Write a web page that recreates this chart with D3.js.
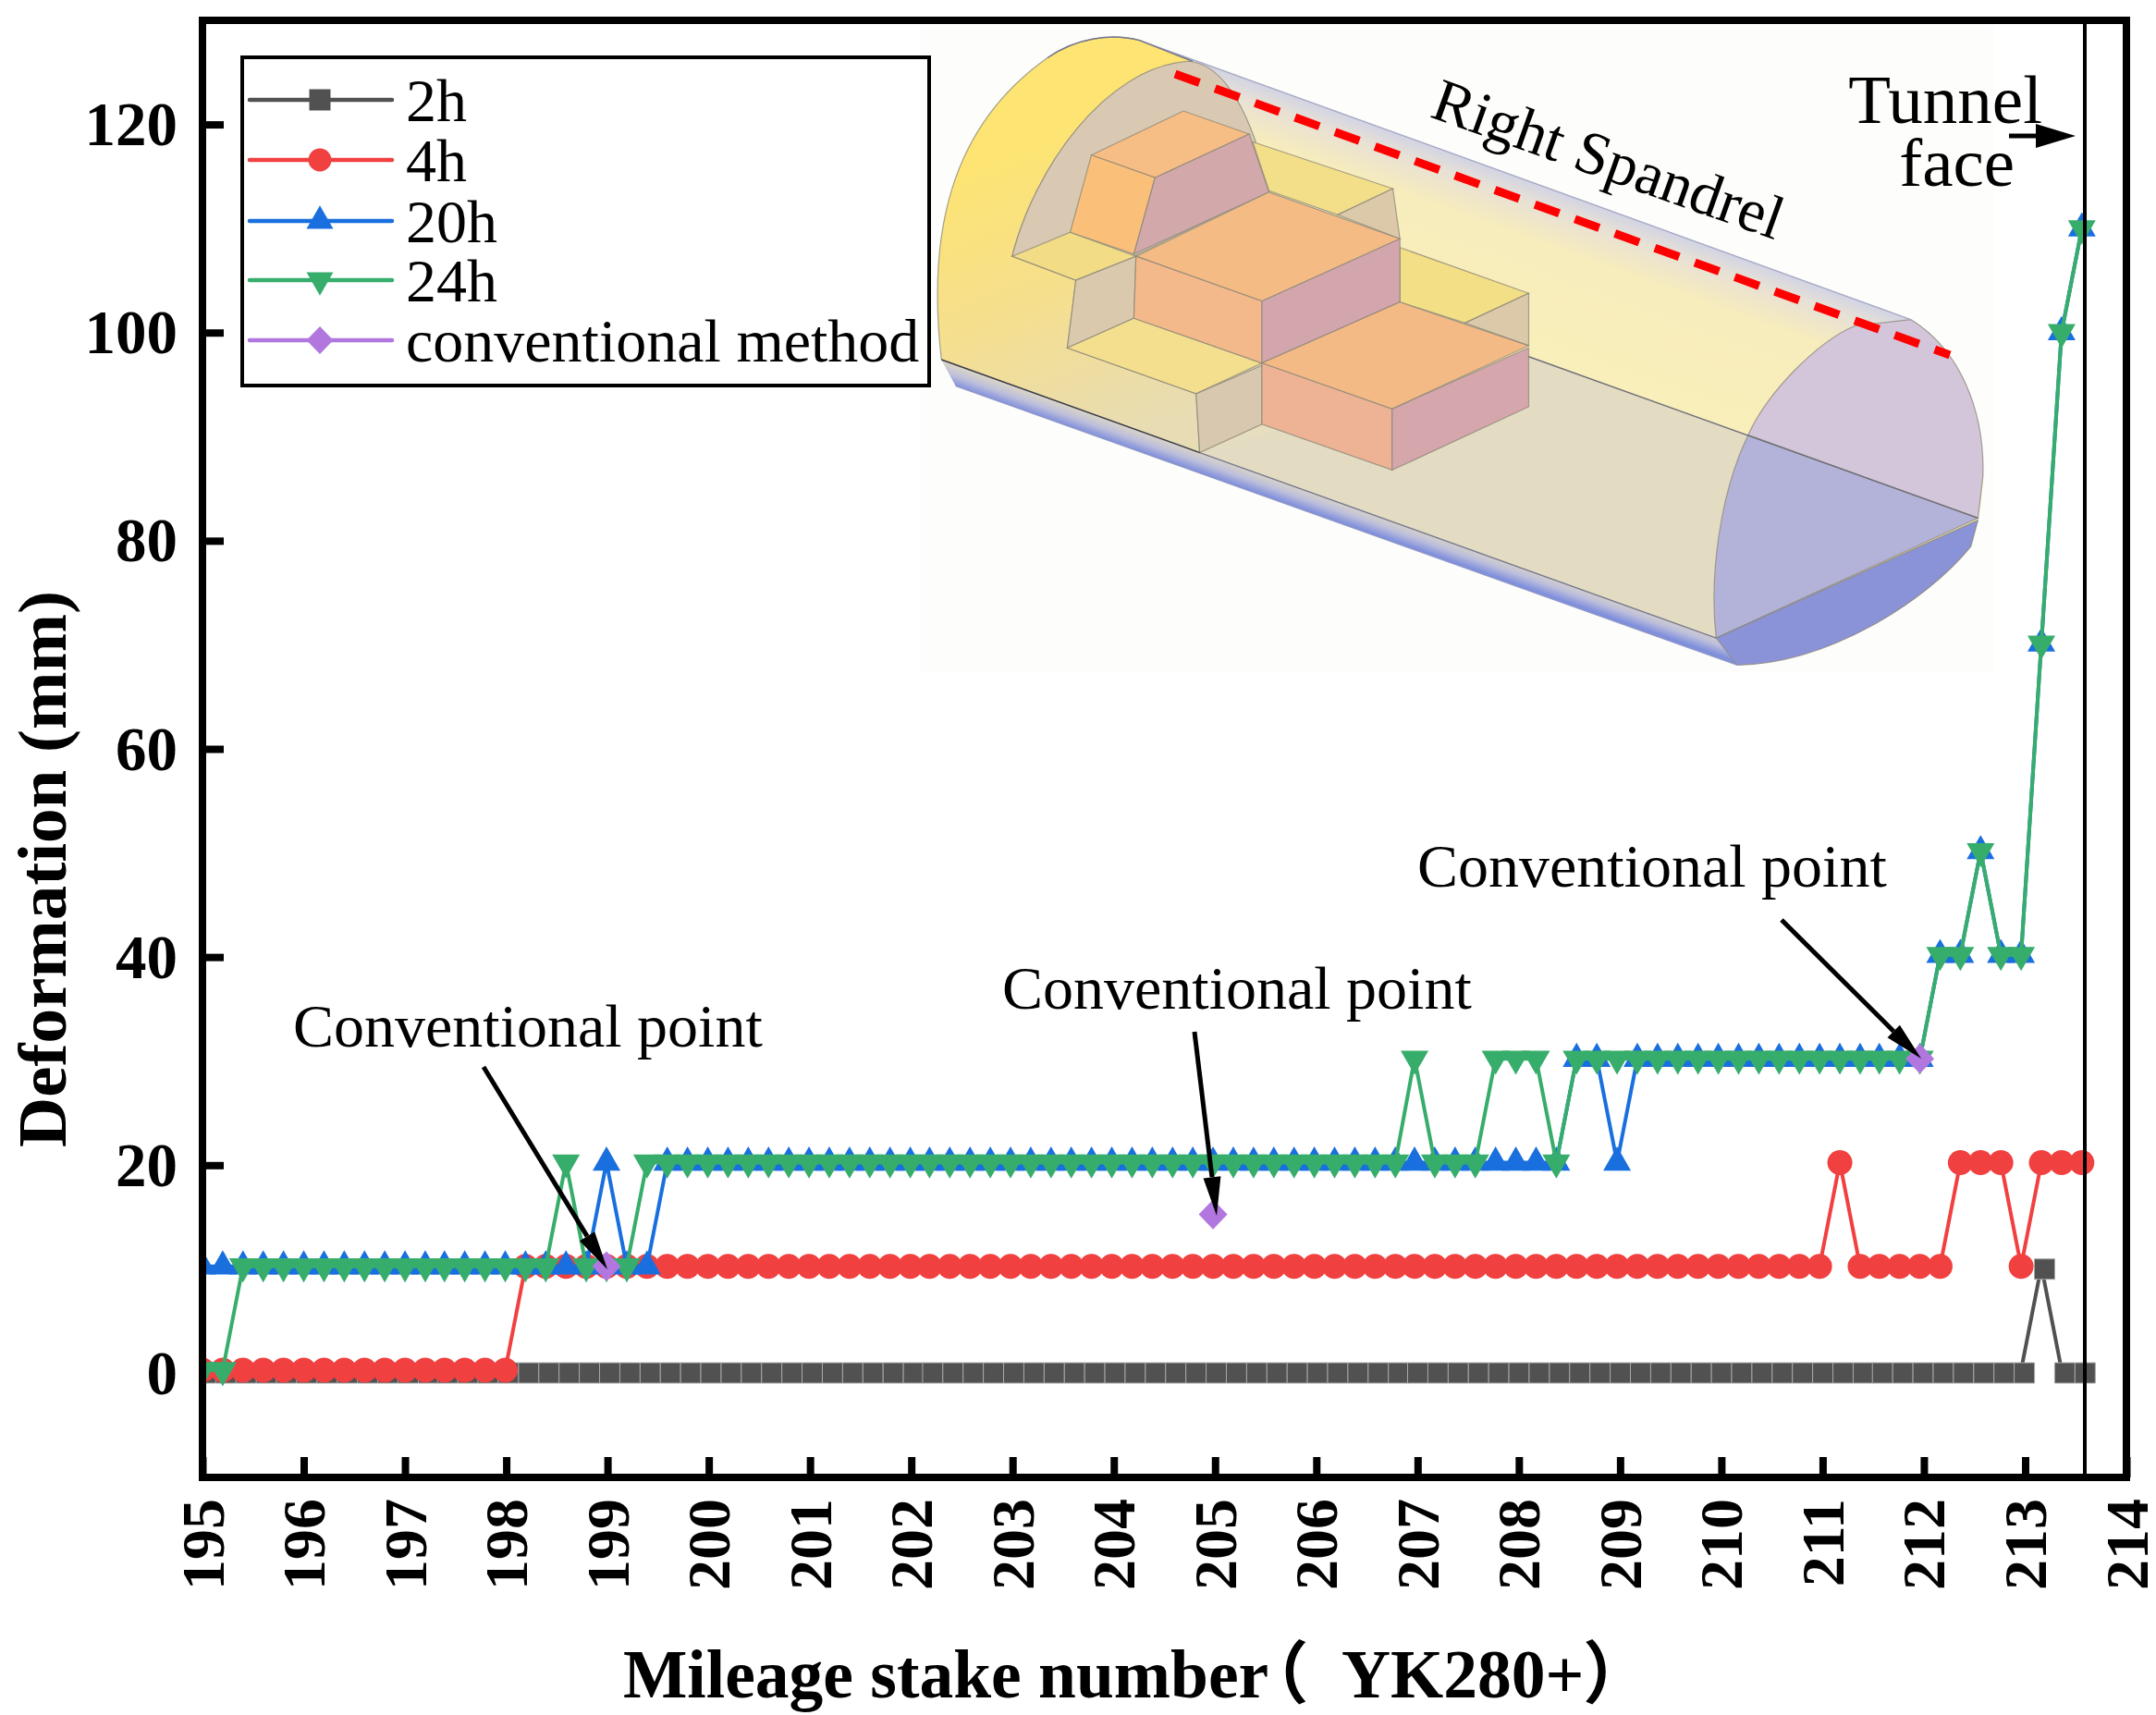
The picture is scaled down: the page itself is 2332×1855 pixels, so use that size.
<!DOCTYPE html>
<html><head><meta charset="utf-8">
<script src="https://cdn.jsdelivr.net/npm/d3@7"></script>
<style>
html,body{margin:0;padding:0;background:#fff}
text{font-family:"Liberation Serif","Noto Sans CJK SC",serif;fill:#000}
</style></head><body><svg id="c" width="2332" height="1855" xmlns="http://www.w3.org/2000/svg"></svg>
<script>
const stakes=[195.00,195.20,195.40,195.60,195.80,196.00,196.20,196.40,196.60,196.80,197.00,197.20,197.39,197.59,197.79,197.99,198.19,198.39,198.59,198.79,198.99,199.19,199.39,199.59,199.79,199.99,200.19,200.39,200.59,200.79,200.99,201.19,201.39,201.59,201.79,201.99,202.18,202.38,202.58,202.78,202.98,203.18,203.38,203.58,203.78,203.98,204.18,204.38,204.58,204.78,204.98,205.18,205.38,205.58,205.78,205.98,206.18,206.38,206.58,206.78,206.97,207.17,207.37,207.57,207.77,207.97,208.17,208.37,208.57,208.77,208.97,209.17,209.37,209.57,209.77,209.97,210.17,210.37,210.57,210.77,210.97,211.17,211.37,211.56,211.76,211.96,212.16,212.36,212.56,212.76,212.96,213.16,213.36,213.56];
const h2=[0,0,0,0,0,0,0,0,0,0,0,0,0,0,0,0,0,0,0,0,0,0,0,0,0,0,0,0,0,0,0,0,0,0,0,0,0,0,0,0,0,0,0,0,0,0,0,0,0,0,0,0,0,0,0,0,0,0,0,0,0,0,0,0,0,0,0,0,0,0,0,0,0,0,0,0,0,0,0,0,0,0,0,0,0,0,0,0,0,0,0,10,0,0];
const h4=[0,0,0,0,0,0,0,0,0,0,0,0,0,0,0,0,10,10,10,10,10,10,10,10,10,10,10,10,10,10,10,10,10,10,10,10,10,10,10,10,10,10,10,10,10,10,10,10,10,10,10,10,10,10,10,10,10,10,10,10,10,10,10,10,10,10,10,10,10,10,10,10,10,10,10,10,10,10,10,10,10,20,10,10,10,10,10,20,20,20,10,20,20,20];
const h20=[10,10,10,10,10,10,10,10,10,10,10,10,10,10,10,10,10,10,10,10,20,10,10,20,20,20,20,20,20,20,20,20,20,20,20,20,20,20,20,20,20,20,20,20,20,20,20,20,20,20,20,20,20,20,20,20,20,20,20,20,20,20,20,20,20,20,20,20,30,30,20,30,30,30,30,30,30,30,30,30,30,30,30,30,30,30,40,40,50,40,40,70,100,110];
const h24=[0,0,10,10,10,10,10,10,10,10,10,10,10,10,10,10,10,10,20,10,10,10,20,20,20,20,20,20,20,20,20,20,20,20,20,20,20,20,20,20,20,20,20,20,20,20,20,20,20,20,20,20,20,20,20,20,20,20,20,20,30,20,20,20,30,30,30,20,30,30,30,30,30,30,30,30,30,30,30,30,30,30,30,30,30,30,40,40,50,40,40,70,100,110];
const convStakes=[198.99,204.98,211.96];
const convValues=[10,15,30];
const xTicks=[195,196,197,198,199,200,201,202,203,204,205,206,207,208,209,210,211,212,213,214];
const yTicks=[0,20,40,60,80,100,120];
const legendLabels=["2h","4h","20h","24h","conventional method"];
const colors=["#515151","#F14040","#1A6FDF","#37AD6B","#B177DE"];
const annotations=[["Conventional point",317,1132],["Conventional point",1084,1091],["Conventional point",1533,959]];
const arrows=[[523,1154,657,1373],[1292,1116,1316,1315],[1927,995,2078,1145]];

const svg=d3.select("#c");
const x=d3.scaleLinear().domain([195,214]).range([219,2300]);
const y=d3.scaleLinear().domain([-10,130]).range([1598,22]);
// the plotted marks sit on a very slightly different vertical calibration than the tick marks
const yMark=d3.scaleLinear().domain([0,110]).range([1482,247]);

const defs=svg.append("defs");
defs.append("clipPath").attr("id","plot").append("rect").attr("x",219).attr("y",22).attr("width",2081).attr("height",1576);
function grad(id,x1,y1,x2,y2,stops){
  const g=defs.append("linearGradient").attr("id",id).attr("gradientUnits","userSpaceOnUse").attr("x1",x1).attr("y1",y1).attr("x2",x2).attr("y2",y2);
  stops.forEach(s=>g.append("stop").attr("offset",s[0]).attr("stop-color",s[1]));
}
grad("body",800,326,390,1024,[[0,"#d2d4e4"],[0.05,"#e8e1d4"],[0.14,"#f7ecbc"],[0.42,"#f9efba"],[0.62,"#eee4bf"],[1,"#e2dac0"]]);
grad("end",80,350,420,900,[[0,"#fde473"],[0.45,"#f6df8c"],[1,"#e7dcb4"]]);
grad("belly",430,1003,410,1038,[[0,"#d9d4c8"],[0.5,"#bcbedb"],[1,"#7f8fdc"]]);

// inset illustration, drawn in the picture's own crop space
const inset=svg.append("g").attr("transform","translate(980,20) scale(0.7653,0.4719)");
inset.append("rect").attr("x",20).attr("y",15).attr("width",1517).attr("height",1485).attr("fill","#fdfdfb");
const surfaces=[
 ["M50,782 C30,500 60,250 200,90 C240,45 290,33 330,50 L1420,690 C1490,760 1525,900 1522,1050 C1520,1130 1515,1150 1505,1210 C1440,1340 1300,1480 1175,1482 L70,842 Z","url(#body)",0],
 ["M50,782 L70,842 L1175,1482 L1145,1420 L415,995 Z","url(#belly)",0],
 ["M415,995 L880,775 L1190,955 L1145,1420 Z","#e3dcc2",0],
 ["M50,782 C30,500 60,250 200,90 C240,45 290,33 330,50 L405,98 C280,110 180,350 150,545 L240,600 L228,755 L410,860 L415,995 Z","url(#end)",1],
 ["M150,545 C180,350 280,110 400,98 C450,105 490,220 513,395 L322,545 Z","#d9c9b2",1],
 ["M150,545 L232,490 L325,545 L240,600 Z","#f2dc85",1],
 ["M240,600 L325,545 L322,687 L228,755 Z","#dbc9ae",1],
 ["M228,755 L322,687 L503,790 L410,860 Z","#f3df8e",1],
 ["M410,860 L503,795 L503,930 L415,995 Z","#d8c8b0",1],
 ["M490,283 L688,390 L610,450 L513,395 Z","#f3df8a",1],
 ["M610,450 L688,390 L698,505 Z","#dcc9aa",1],
 ["M698,525 L880,630 L790,698 L698,650 Z","#f2df86",1],
 ["M790,698 L880,630 L880,750 Z","#dcc9aa",1],
 ["M262,313 L392,212 L485,265 L352,365 Z","#f6bd85",1],
 ["M262,313 L352,365 L322,540 L232,490 Z","#fabf78",1],
 ["M352,365 L485,265 L513,398 L322,540 Z","#d3a8aa",1],
 ["M513,398 L698,505 L503,648 L325,545 Z","#f5bb85",1],
 ["M325,545 L503,648 L503,790 L322,687 Z","#f3b98a",1],
 ["M503,648 L698,505 L698,650 L503,790 Z","#d3a5ac",1],
 ["M698,650 L880,750 L687,895 L503,790 Z","#f4ba85",1],
 ["M503,790 L687,895 L687,1035 L503,930 Z","#eeb394",1],
 ["M687,895 L880,755 L880,890 L687,1035 Z","#d5a6ab",1],
 ["M1190,955 C1220,850 1290,740 1340,705 L1420,690 C1490,760 1525,900 1522,1050 L1515,1145 Z","#d3c6da",1],
 ["M1190,955 L1515,1145 L1145,1420 C1135,1280 1150,1090 1190,955 Z","#b3b3d9",1],
 ["M1145,1420 L1515,1150 L1505,1210 C1440,1340 1300,1480 1175,1482 Z","#8b93d8",1]
];
inset.selectAll("path.s").data(surfaces).join("path").attr("class","s")
 .attr("d",d=>d[0]).attr("fill",d=>d[1])
 .attr("stroke",d=>d[2]?"#8a8578":"none").attr("stroke-width",1.2).attr("stroke-opacity",0.75)
 .attr("vector-effect","non-scaling-stroke");
const insetLines=[["M50,782 L415,995","#3d3f4d"],["M70,842 L1175,1482","#8d96c8"],["M330,50 L1420,690","#a6a9c4"],["M880,775 L1515,1145","#6f6f78"],["M415,995 L1145,1420","#77798f"],["M200,90 C240,45 290,33 330,50 L405,98","#77798f"]];
inset.selectAll("path.l").data(insetLines).join("path").attr("class","l").attr("d",d=>d[0]).attr("fill","none")
 .attr("stroke",d=>d[1]).attr("stroke-width",1.4).attr("vector-effect","non-scaling-stroke");
svg.append("line").attr("x1",1271).attr("y1",80).attr("x2",2109).attr("y2",384).attr("stroke","#ff0000").attr("stroke-width",9).attr("stroke-dasharray","28 18");
svg.append("text").attr("transform","translate(1545,126) rotate(19.6)").attr("font-size",66).text("Right Spandrel");

// axes sit underneath the plotted series
const xAxis=svg.append("g").attr("transform","translate(0,1598)").call(d3.axisBottom(x).tickValues(xTicks).tickFormat(d3.format("d")).tickSizeInner(-22).tickSizeOuter(0));
xAxis.select(".domain").remove();
xAxis.selectAll(".tick line").attr("stroke","#000").attr("stroke-width",8);
xAxis.selectAll(".tick text").attr("font-size",66).attr("font-weight","bold").attr("font-family",null)
  .attr("text-anchor","end").attr("dy",null).attr("x",null).attr("y",null)
  .attr("transform","translate(0,23) rotate(-90) translate(0,22)");
const yAxis=svg.append("g").attr("transform","translate(219,0)").call(d3.axisLeft(y).tickValues(yTicks).tickFormat(d3.format("d")).tickSizeInner(-23).tickSizeOuter(0));
yAxis.select(".domain").remove();
yAxis.selectAll(".tick line").attr("stroke","#000").attr("stroke-width",8);
yAxis.selectAll(".tick text").attr("font-size",67).attr("font-weight","bold").attr("font-family",null)
  .attr("text-anchor","end").attr("x",-27).attr("dy","0.33em");

// series
const seriesList=[h2,h4,h20,h24];
const line=d3.line().x((d,i)=>x(stakes[i])).y(d=>yMark(d));
const plot=svg.append("g").attr("clip-path","url(#plot)");
const shape={
 square:(s)=>`M${-s/2},${-s/2}H${s/2}V${s/2}H${-s/2}Z`,
 circle:(s)=>`M${-s/2},0A${s/2},${s/2} 0 1 1 ${s/2},0A${s/2},${s/2} 0 1 1 ${-s/2},0Z`,
 up:(s)=>`M0,${-s*0.58}L${s/2},${s*0.29}L${-s/2},${s*0.29}Z`,
 down:(s)=>`M0,${s*0.58}L${s/2},${-s*0.29}L${-s/2},${-s*0.29}Z`,
 diamond:(s)=>`M0,${-s*0.52}L${s/2},0L0,${s*0.52}L${-s/2},0Z`
};
const markers=[["square",22],["circle",27],["up",30],["down",30],["diamond",31]];
seriesList.forEach((vals,si)=>{
  const g=plot.append("g");
  g.append("path").attr("d",line(vals)).attr("fill","none").attr("stroke",colors[si]).attr("stroke-width",4);
  g.selectAll("path.m").data(vals).join("path").attr("class","m")
   .attr("transform",(d,i)=>`translate(${x(stakes[i])+(si===0?3.5:0)},${yMark(d)+(si===0?3:0)})`)
   .attr("d",shape[markers[si][0]](markers[si][1]))
   .attr("fill",colors[si])
   .attr("stroke",si===0?"#a8a8a8":"none").attr("stroke-width",si===0?1:0);
});
plot.append("g").selectAll("path").data(convValues).join("path")
  .attr("transform",(d,i)=>`translate(${x(convStakes[i])},${yMark(d)})`)
  .attr("d",shape.diamond(31)).attr("fill",colors[4]);

// tunnel-face line and frame
svg.append("line").attr("x1",2255).attr("x2",2255).attr("y1",22).attr("y2",1598).attr("stroke","#000").attr("stroke-width",4);
svg.append("rect").attr("x",219).attr("y",22).attr("width",2081).attr("height",1576).attr("fill","none").attr("stroke","#000").attr("stroke-width",8);
svg.append("text").attr("transform","translate(71,940) rotate(-90)").attr("text-anchor","middle").attr("font-size",75).attr("font-weight","bold").text("Deformation (mm)");
const xTitle=svg.append("text").attr("y",1836).attr("font-size",73.5).attr("font-weight","bold");
xTitle.append("tspan").attr("x",674).text("Mileage stake number");
xTitle.append("tspan").attr("x",1342).attr("font-family","Noto Sans CJK SC").text("（");
xTitle.append("tspan").attr("x",1451).text("YK280+");
xTitle.append("tspan").attr("x",1712).attr("font-family","Noto Sans CJK SC").text("）");

// legend
svg.append("rect").attr("x",262).attr("y",62).attr("width",743).attr("height",355).attr("fill","#fff").attr("stroke","#000").attr("stroke-width",4);
const rowY=[108,173,239,303,368];
const lg=svg.append("g").selectAll("g").data(legendLabels).join("g").attr("transform",(d,i)=>`translate(0,${rowY[i]})`);
lg.append("line").attr("x1",270).attr("x2",424).attr("stroke-linecap","round").attr("stroke",(d,i)=>colors[i]).attr("stroke-width",4.5);
lg.append("path").attr("transform","translate(346,0)").attr("d",(d,i)=>{
  const m=[["square",23],["circle",25],["up",29],["down",29],["diamond",29]][i];return shape[m[0]](m[1]);
}).attr("fill",(d,i)=>colors[i]);
lg.append("text").attr("x",439).attr("y",23).attr("font-size",66).text(d=>d);

// annotations
svg.append("g").selectAll("text").data(annotations).join("text").attr("x",d=>d[1]).attr("y",d=>d[2]).attr("font-size",66).text(d=>d[0]);
function arrow(a,headLen,headW,w){
  const [x1,y1,x2,y2]=a;const L=Math.hypot(x2-x1,y2-y1),ux=(x2-x1)/L,uy=(y2-y1)/L;
  const bx=x2-ux*headLen,by=y2-uy*headLen;
  svg.append("line").attr("x1",x1).attr("y1",y1).attr("x2",bx).attr("y2",by).attr("stroke","#000").attr("stroke-width",w);
  svg.append("path").attr("d",`M${x2},${y2}L${bx-uy*headW/2},${by+ux*headW/2}L${bx+uy*headW/2},${by-ux*headW/2}Z`).attr("fill","#000");
}
arrows.forEach(a=>arrow(a,42,19,5));
arrow([2173,147,2245,147],43,26,5);
svg.append("text").attr("x",2209).attr("y",133).attr("text-anchor","end").attr("font-size",75).text("Tunnel");
svg.append("text").attr("x",2179).attr("y",201).attr("text-anchor","end").attr("font-size",75).text("face");
</script></body></html>
